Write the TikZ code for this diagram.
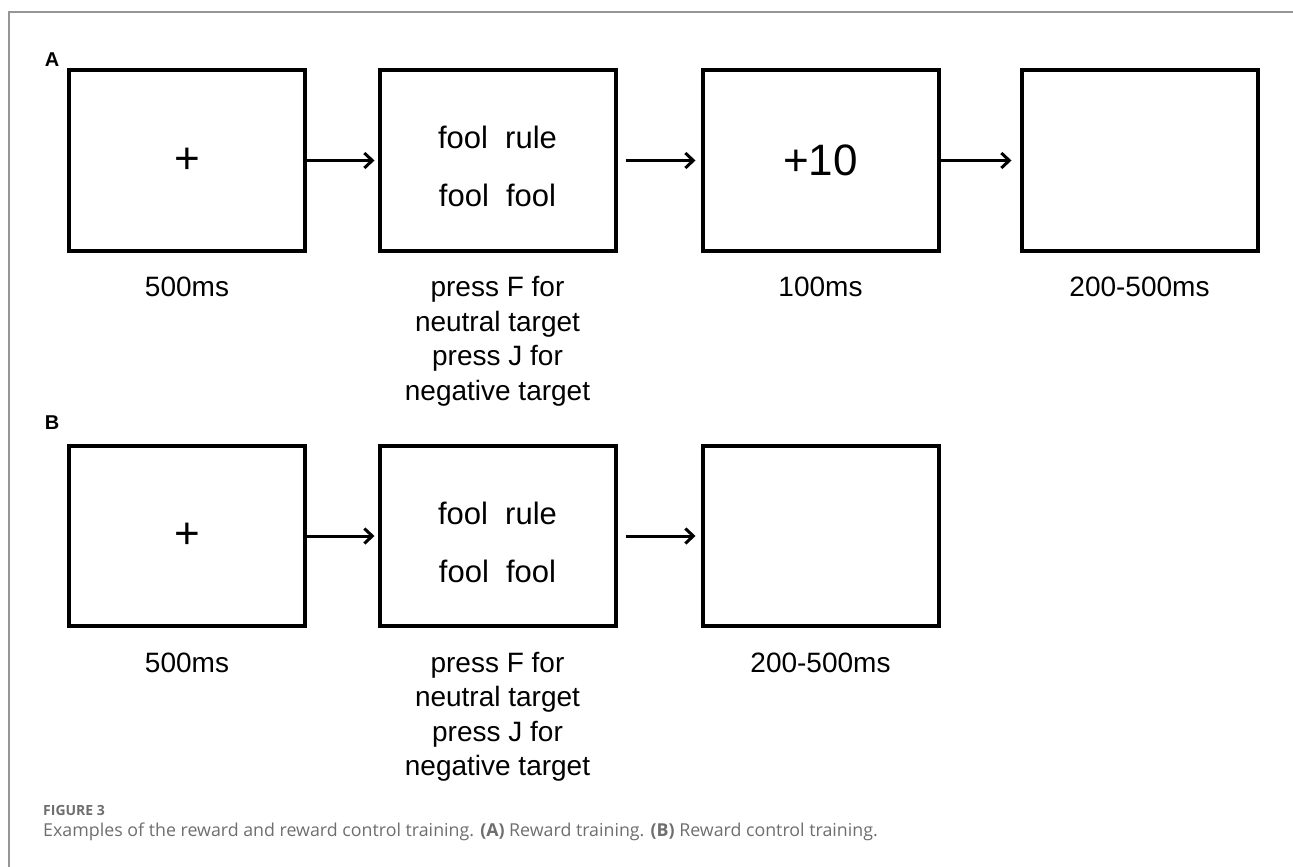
\documentclass[tikz,border=0pt]{standalone}
\usepackage{fontspec}
\setmainfont{Liberation Sans}
\newfontfamily\capfont{Open Sans}
\usepackage{tikz}
\usetikzlibrary{positioning, arrows.meta}
\definecolor{capGray}{RGB}{110, 110, 110}
\definecolor{frameGray}{RGB}{150, 150, 150}

\begin{document}
\begin{tikzpicture}[
    x=1pt, y=-1pt,
    screen/.style={rectangle, draw, line width=4pt, minimum width=236pt, minimum height=180pt, inner sep=0pt},
    word/.style={font=\fontsize{31}{36}\selectfont},
    big/.style={font=\fontsize{44}{50}\selectfont},
    lbl/.style={inner sep=0pt, align=center, font=\fontsize{28}{34.5}\selectfont, execute at begin node=\strut},
    panel/.style={font=\fontsize{20}{24}\selectfont\bfseries},
    arr/.style={-{Straight Barb[length=8pt, width=15pt, line width=3pt]}, line width=3pt}
]
\useasboundingbox (0,0) rectangle (1293,867);
\draw[frameGray, line width=1.5pt] (1293,12) -- (9,12) -- (9,867);

\node[panel] (pA) at (52,60) {A};
\node[screen] (a1) at (187,160.5)   {};
\node[screen] (a2) at (497.5,160.5) {};
\node[screen] (a3) at (820.5,160.5) {};
\node[screen] (a4) at (1139.5,160.5) {};
\node[big] (plusA) at (a1.center) {+};
\node[big] (gain) at (a3.center) {+10};
\node[word] (wA1) at ([yshift=23pt]a2.center) {fool\ \ rule};
\node[word] (wA2) at ([yshift=-35pt]a2.center) {fool\ \ fool};

\draw[arr, shorten >=3pt] (a1) -- (a2);
\draw[arr, shorten <=8pt, shorten >=5pt] (a2) -- (a3);
\draw[arr, shorten >=8pt] (a3) -- (a4);

\node[lbl, below=20pt of a1] (ta1) {500ms};
\node[lbl, below=24pt of a2] (ta2) {press F for\\neutral target\\press J for\\negative target};
\node[lbl, below=20pt of a3] (ta3) {100ms};
\node[lbl, below=20pt of a4] (ta4) {200-500ms};

\node[panel] (pB) at (52,423) {B};
\node[screen] (b1) at (187,536)   {};
\node[screen] (b2) at (497.5,536) {};
\node[screen] (b3) at (820.5,536) {};
\node[big] (plusB) at (b1.center) {+};
\node[word] (wB1) at ([yshift=23pt]b2.center) {fool\ \ rule};
\node[word] (wB2) at ([yshift=-35pt]b2.center) {fool\ \ fool};

\draw[arr, shorten >=3pt] (b1) -- (b2);
\draw[arr, shorten <=8pt, shorten >=5pt] (b2) -- (b3);

\node[lbl, below=20pt of b1] (tb1) {500ms};
\node[lbl, below=24pt of b2] (tb2) {press F for\\neutral target\\press J for\\negative target};
\node[lbl, below=20pt of b3] (tb3) {200-500ms};

\node[anchor=west, inner sep=0pt, text=capGray, font=\capfont\fontsize{14}{16}\selectfont\bfseries] (fig) at (43,810) {FIGURE 3};
\node[anchor=west, inner sep=0pt, text=capGray, font=\capfont\fontsize{17.8}{21}\selectfont] (cap) at (43,832)
  {Examples of the reward and reward control training. \textbf{(A)} Reward training. \textbf{(B)} Reward control training.};
\end{tikzpicture}
\end{document}
